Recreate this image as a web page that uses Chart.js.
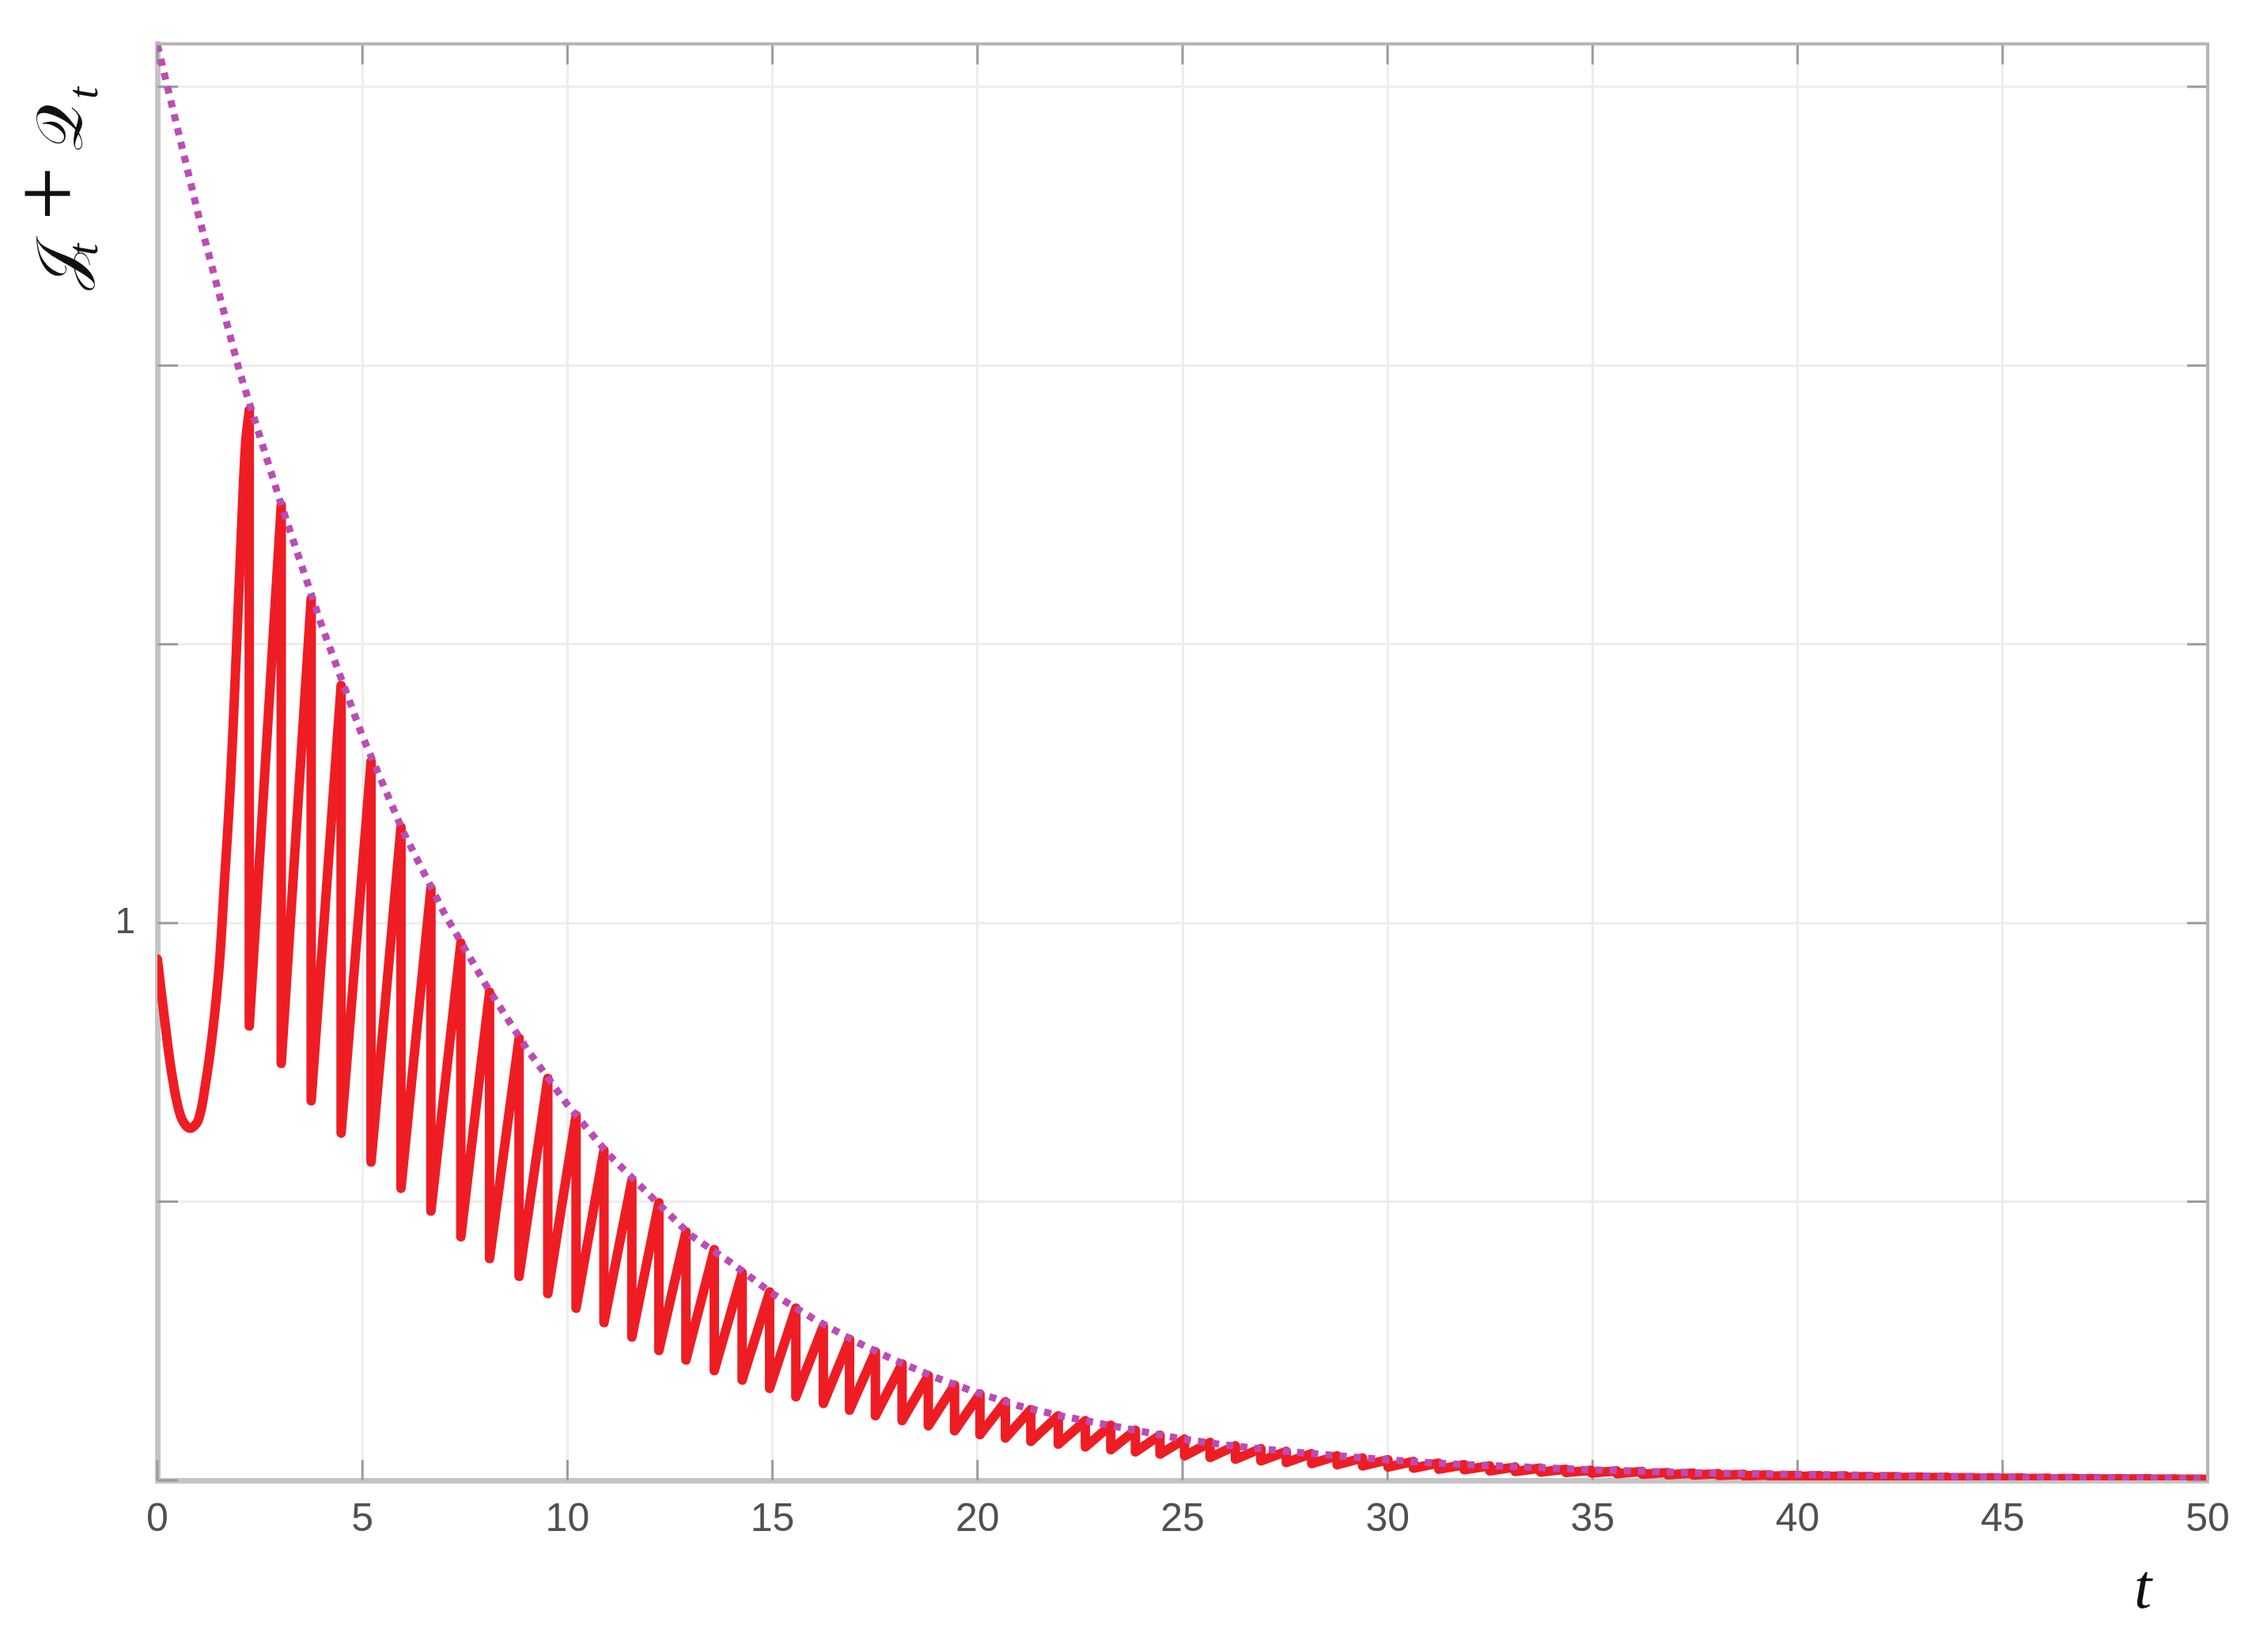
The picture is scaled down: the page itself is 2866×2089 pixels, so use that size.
<!DOCTYPE html>
<html>
<head>
<meta charset="utf-8">
<script src="https://cdn.jsdelivr.net/npm/chart.js@4.4.1/dist/chart.umd.min.js"></script>
<style>
  html, body { margin: 0; padding: 0; background: #fff; }
  #wrap { width: 2866px; height: 2089px; position: relative; }
</style>
</head>
<body>
<div id="wrap"><canvas id="chart"></canvas></div>
<script>
// start of the red curve, up to the first peak
const startT = [0, 0.17, 0.35, 0.56, 0.78, 0.99, 1.16, 1.34, 1.51, 1.64, 1.77, 1.90, 2.03, 2.15, 2.24];
const startV = [0.935, 0.83, 0.73, 0.655, 0.632, 0.645, 0.705, 0.80, 0.925, 1.08, 1.235, 1.443, 1.67, 1.86, 1.92];

// sawtooth: peak time, value at the peak, value right after the drop
const peakT = [2.24, 3.02, 3.75, 4.48, 5.21, 5.94, 6.67, 7.40, 8.10, 8.82,
  9.52, 10.21, 10.89, 11.57, 12.23, 12.89, 13.58, 14.26, 14.93, 15.57,
  16.24, 16.88, 17.51, 18.16, 18.80, 19.44, 20.06, 20.68, 21.30, 21.97,
  22.63, 23.25, 23.85, 24.45, 25.05, 25.67, 26.29, 26.91, 27.53, 28.15,
  28.77, 29.39, 30.01, 30.63, 31.25, 31.87, 32.49, 33.11, 33.73, 34.35,
  34.97, 35.59, 36.21, 36.83, 37.45, 38.07, 38.69, 39.31, 39.93, 40.55,
  41.17, 41.79, 42.41, 43.03, 43.65, 44.27, 44.89, 45.51, 46.13, 46.75,
  47.37, 47.99, 48.61, 49.23, 49.85];
const peakV = [1.92, 1.75, 1.582, 1.426, 1.29, 1.172, 1.063, 0.964, 0.876, 0.793,
  0.721, 0.655, 0.592, 0.538, 0.498, 0.446, 0.414, 0.372, 0.338, 0.309,
  0.277, 0.253, 0.231, 0.209, 0.188, 0.171, 0.155, 0.141, 0.127, 0.116,
  0.107, 0.099, 0.09, 0.081, 0.074, 0.068, 0.062, 0.057, 0.052, 0.048,
  0.044, 0.040, 0.037, 0.034, 0.031, 0.028, 0.026, 0.024, 0.022, 0.020,
  0.018, 0.017, 0.016, 0.014, 0.013, 0.012, 0.011, 0.010, 0.009, 0.0085,
  0.008, 0.0072, 0.0066, 0.006, 0.0055, 0.005, 0.0046, 0.0042, 0.0038, 0.0035,
  0.0032, 0.003, 0.0027, 0.0025, 0.0023];
const troughV = [0.815, 0.748, 0.681, 0.623, 0.571, 0.524, 0.483, 0.437, 0.398, 0.366,
  0.335, 0.309, 0.283, 0.257, 0.233, 0.216, 0.197, 0.18, 0.165, 0.15,
  0.138, 0.126, 0.116, 0.107, 0.098, 0.089, 0.082, 0.076, 0.07, 0.065,
  0.06, 0.055, 0.051, 0.047, 0.044, 0.041, 0.038, 0.035, 0.032, 0.030,
  0.028, 0.026, 0.024, 0.022, 0.020, 0.019, 0.017, 0.016, 0.015, 0.014,
  0.013, 0.012, 0.011, 0.010, 0.0095, 0.0088, 0.008, 0.0074, 0.0068, 0.0063,
  0.0058, 0.0054, 0.005, 0.0046, 0.0042, 0.0039, 0.0036, 0.0033, 0.003, 0.0028,
  0.0026, 0.0024, 0.0022, 0.002, 0.0019];
const endT = 50, endV = 0.0022;

// dotted upper envelope
const envT = [0, 1, 2, 3, 4, 5, 6, 7, 8, 9, 10, 11, 12, 13, 14, 15, 16, 17, 18, 19, 20,
  21, 22, 23, 24, 25, 26, 27, 28, 29, 30, 31, 32, 33, 34, 35, 36, 37, 38, 39, 40,
  41, 42, 43, 44, 45, 46, 47, 48, 49, 50];
const envV = [2.575, 2.27, 1.99, 1.755, 1.535, 1.335, 1.163, 1.017, 0.89, 0.775, 0.674,
  0.585, 0.512, 0.44, 0.39, 0.335, 0.29, 0.25, 0.215, 0.184, 0.157,
  0.134, 0.116, 0.102, 0.088, 0.074, 0.064, 0.056, 0.049, 0.043, 0.037,
  0.032, 0.028, 0.025, 0.022, 0.019, 0.017, 0.015, 0.013, 0.012, 0.011,
  0.010, 0.009, 0.008, 0.007, 0.006, 0.005, 0.005, 0.004, 0.004, 0.003];

const xTicks = [0, 5, 10, 15, 20, 25, 30, 35, 40, 45, 50];
const yLabelled = [1];

const startPts = startT.map((t, i) => ({ x: t, y: startV[i] }));
const sawPts = [];
peakT.forEach((t, i) => {
  sawPts.push({ x: t, y: peakV[i] });
  sawPts.push({ x: t, y: troughV[i] });
});
sawPts.push({ x: endT, y: endV });
const envPts = envT.map((t, i) => ({ x: t, y: envV[i] }));

const RED = '#ee1d23';

const frame = {
  id: 'frame',
  beforeDatasetsDraw(chart) {
    const { ctx, chartArea: a, scales: { x, y } } = chart;
    ctx.save();
    ctx.strokeStyle = '#9c9c9c';
    ctx.lineWidth = 3;
    const len = 26;
    ctx.beginPath();
    xTicks.forEach(v => {
      const px = x.getPixelForValue(v);
      ctx.moveTo(px, a.bottom); ctx.lineTo(px, a.bottom - len);
      ctx.moveTo(px, a.top); ctx.lineTo(px, a.top + len);
    });
    y.ticks.forEach(tk => {
      const py = y.getPixelForValue(tk.value);
      ctx.moveTo(a.left, py); ctx.lineTo(a.left + len, py);
      ctx.moveTo(a.right, py); ctx.lineTo(a.right - len, py);
    });
    ctx.stroke();
    ctx.restore();
  },
  afterDraw(chart) {
    const { ctx, chartArea: a } = chart;
    ctx.save();
    ctx.strokeStyle = '#b4b4b4';
    ctx.lineWidth = 4;
    ctx.beginPath();
    ctx.moveTo(a.left, a.top); ctx.lineTo(a.right, a.top); ctx.lineTo(a.right, a.bottom);
    ctx.stroke();

    // y axis title, rotated
    ctx.fillStyle = '#111';
    ctx.translate(103, 367);
    ctx.rotate(-Math.PI / 2);
    ctx.textBaseline = 'alphabetic';
    ctx.textAlign = 'left';
    ctx.font = '82px "DejaVu Serif", "DejaVu Sans", serif';
    ctx.fillText('𝒥', 0, 0);
    ctx.fillText('𝒬', 176, 0);
    ctx.font = '122px "Liberation Serif", serif';
    ctx.fillText('+', 88, -2);
    ctx.font = 'italic 54px "Liberation Serif", serif';
    ctx.fillText('t', 44, 20);
    ctx.fillText('t', 242, 20);
    ctx.restore();

    ctx.save();
    ctx.fillStyle = '#111';
    ctx.font = 'italic 80px "Liberation Serif", serif';
    ctx.textAlign = 'center';
    ctx.textBaseline = 'alphabetic';
    ctx.fillText('t', 2709, 2033);
    ctx.restore();
  }
};

new Chart(document.getElementById('chart'), {
  type: 'line',
  data: {
    datasets: [
      { data: envPts, borderColor: '#bd4bb5', borderWidth: 9, borderDash: [9, 9],
        borderCapStyle: 'butt', pointRadius: 0, tension: 0, order: 0 },
      { data: startPts, borderColor: RED, borderWidth: 12, borderJoinStyle: 'round',
        borderCapStyle: 'round', pointRadius: 0, tension: 0.35, order: 1 },
      { data: sawPts, borderColor: RED, borderWidth: 12, borderJoinStyle: 'round',
        pointRadius: 0, tension: 0, order: 1 }
    ]
  },
  options: {
    responsive: true, maintainAspectRatio: false, animation: false,
    devicePixelRatio: 1,
    layout: { padding: { top: 53, right: 75, left: 0, bottom: 0 } },
    plugins: { legend: { display: false }, tooltip: { enabled: false } },
    scales: {
      x: {
        type: 'linear', min: 0, max: 50,
        afterFit: s => { s.height = 217; },
        grid: { color: '#ededed', lineWidth: 3, drawTicks: false },
        border: { display: true, color: '#c4c4c4', width: 7 },
        ticks: { stepSize: 5, padding: 20, color: '#505050',
          font: { family: '"Liberation Sans", Arial, sans-serif', size: 50 } }
      },
      y: {
        type: 'linear', min: 0, max: 2.577,
        afterFit: s => { s.width = 199; },
        grid: { color: '#ededed', lineWidth: 3, drawTicks: false },
        border: { display: true, color: '#c4c4c4', width: 7 },
        ticks: { stepSize: 0.5, includeBounds: false, padding: 28, color: '#505050',
          font: { family: '"Liberation Sans", Arial, sans-serif', size: 46 },
          callback: v => (yLabelled.includes(v) ? String(v) : '') }
      }
    }
  },
  plugins: [frame]
});
</script>
</body>
</html>
